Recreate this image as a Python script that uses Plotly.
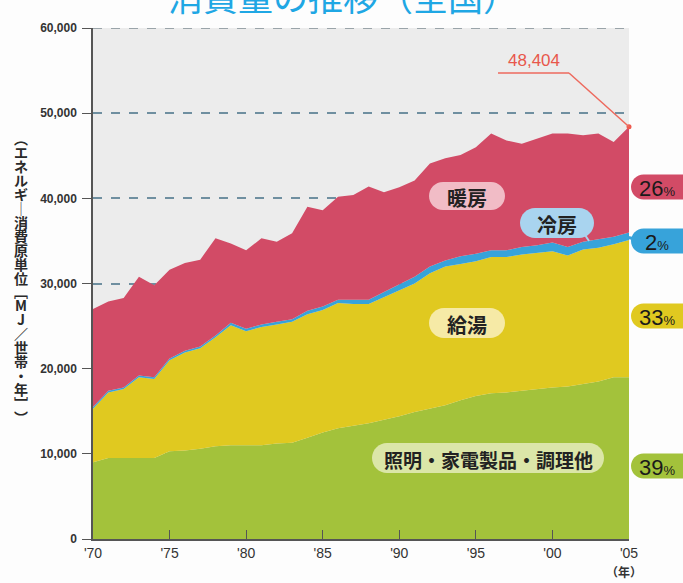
import plotly.graph_objects as go

years = list(range(1970, 2006))
tick_years = [1970, 1975, 1980, 1985, 1990, 1995, 2000, 2005]
tick_text = ["'70", "'75", "'80", "'85", "'90", "'95", "'00", "'05"]

series_names = ["照明・家電製品・調理他", "給湯", "冷房", "暖房"]
lighting = [9000, 9500, 9500, 9500, 9500, 10300, 10400, 10600, 10900, 11000,
            11000, 11000, 11200, 11300, 11900, 12500, 13000, 13300, 13600, 14000,
            14400, 14900, 15300, 15700, 16300, 16800, 17100, 17200, 17400, 17600,
            17800, 17900, 18200, 18500, 19000, 19000]
hot_water = [6300, 7700, 8100, 9500, 9300, 10700, 11500, 11800, 12800, 14100,
             13400, 13900, 14000, 14200, 14500, 14400, 14700, 14300, 14000, 14400,
             14800, 15100, 15900, 16300, 16000, 15800, 16000, 15900, 16000, 16000,
             16000, 15400, 15800, 15700, 15600, 16100]
cooling = [200, 200, 200, 200, 200, 200, 200, 200, 200, 300,
           300, 300, 300, 300, 400, 400, 400, 500, 500, 600,
           700, 800, 800, 700, 900, 900, 800, 800, 900, 900,
           1000, 1000, 900, 1000, 900, 900]
heating = [11500, 10500, 10500, 11600, 10800, 10400, 10300, 10200, 11400, 9300,
           9200, 10100, 9400, 10100, 12200, 11300, 12100, 12300, 13300, 11700,
           11400, 11300, 12100, 12000, 11900, 12500, 13700, 12900, 12100, 12500,
           12800, 13300, 12500, 12400, 11100, 12404]
share_labels = ["39", "33", "2", "26"]
total_label = "48,404"
title_text = "消費量の推移（全国）"
ytitle_chars = ["︵", "エ", "ネ", "ル", "ギ", "│", "消", "費", "原", "単", "位", "﹇", "M", "J",
                "／", "世", "帯", "・", "年", "﹈", "︶"]
year_unit = "（年）"

colors = ["#a3c23b", "#e0c920", "#37a3da", "#d24b66"]
pill_colors = ["#dbe6a8", "#f6eaa6", "#a9d4ef", "#f1bcc6"]

# pixel geometry of plot area
W, H = 683, 583
L, R, T, B = 93, 629, 28, 539
YMAX = 60000


def px(x):
    return (x - L) / (R - L)


def py(y):
    return (B - y) / (B - T)


def pill_path(cx, cy, w, h):
    r = h / 2
    k = 0.5523 * r
    x0, x1 = cx - w / 2, cx + w / 2
    y0, y1 = cy - h / 2, cy + h / 2
    pts = [
        ("M", [(x0 + r, y0)]),
        ("L", [(x1 - r, y0)]),
        ("C", [(x1 - r + k, y0), (x1, cy - k), (x1, cy)]),
        ("C", [(x1, cy + k), (x1 - r + k, y1), (x1 - r, y1)]),
        ("L", [(x0 + r, y1)]),
        ("C", [(x0 + r - k, y1), (x0, cy + k), (x0, cy)]),
        ("C", [(x0, cy - k), (x0 + r - k, y0), (x0 + r, y0)]),
    ]
    s = ""
    for cmd, ps in pts:
        s += cmd + " " + " ".join(f"{px(a):.5f},{py(b):.5f}" for a, b in ps) + " "
    return s + "Z"


fig = go.Figure()
for name, vals, c in zip(series_names, [lighting, hot_water, cooling, heating], colors):
    fig.add_trace(go.Scatter(
        x=years, y=vals, name=name, stackgroup="one", mode="lines",
        line=dict(width=0, color=c), fillcolor=c, showlegend=False,
        hoverinfo="x+y+name"))

cjk = "Noto Sans CJK JP"
shapes = []
annotations = []

# dashed line at top of range
shapes.append(dict(type="line", xref="paper", yref="y", x0=0, x1=1, y0=YMAX, y1=YMAX,
                   line=dict(color="#7f8c92", width=1.5, dash="dash"), layer="below"))

# in-chart labels
inner = [
    (488, 458, 232, 30, pill_colors[0], series_names[0], 19),
    (467, 323, 76, 30, pill_colors[1], series_names[1], 20),
    (557, 223, 74, 30, pill_colors[2], series_names[2], 20),
    (467, 196, 76, 28, pill_colors[3], series_names[3], 20),
]
shapes.append(dict(type="line", xref="paper", yref="paper",
                   x0=px(585), y0=py(235), x1=px(589), y1=py(241),
                   line=dict(color=pill_colors[2], width=2)))
for cx, cy, w, h, c, t, fs in inner:
    shapes.append(dict(type="path", xref="paper", yref="paper", path=pill_path(cx, cy, w, h),
                       fillcolor=c, line=dict(width=0)))
    annotations.append(dict(xref="paper", yref="paper", x=px(cx), y=py(cy + 1), text=t,
                            showarrow=False, xanchor="center", yanchor="middle",
                            font=dict(family=cjk, size=fs, color="#222222", weight="bold")))

# right share pills
right = [(466, colors[0], share_labels[0]), (316, colors[1], share_labels[1]),
         (241, colors[2], share_labels[2]), (187, colors[3], share_labels[3])]
shapes.append(dict(type="line", xref="paper", yref="paper",
                   x0=px(626), y0=py(237), x1=px(640), y1=py(240),
                   line=dict(color=colors[2], width=3)))
for cy, c, t in right:
    shapes.append(dict(type="path", xref="paper", yref="paper", path=pill_path(664, cy, 66, 25),
                       fillcolor=c, line=dict(width=0)))
    annotations.append(dict(xref="paper", yref="paper", x=px(657), y=py(cy + 1),
                            text=t + "<span style='font-size:13px'>%</span>",
                            showarrow=False, xanchor="center", yanchor="middle",
                            font=dict(family="Liberation Sans, Arial", size=22, color="#1a1a1a")))

# 48,404 callout
total_2005 = sum(v[-1] for v in [lighting, hot_water, cooling, heating])
callout_y = py(73) * YMAX
shapes.append(dict(type="line", xref="paper", yref="paper",
                   x0=px(498), y0=py(73), x1=px(569), y1=py(73),
                   line=dict(color="#ee6a5e", width=1.5)))
shapes.append(dict(type="line", xref="paper", yref="y",
                   x0=px(569), y0=callout_y, x1=1.0, y1=total_2005,
                   line=dict(color="#ee6a5e", width=1.5)))
fig.add_trace(go.Scatter(x=[years[-1]], y=[total_2005], mode="markers",
                         marker=dict(color="#ee5a4e", size=5), showlegend=False,
                         hoverinfo="skip", cliponaxis=False))
annotations.append(dict(xref="paper", yref="paper", x=px(534), y=py(60), text=total_label,
                        showarrow=False, xanchor="center", yanchor="middle",
                        font=dict(family="Liberation Sans, Arial", size=17, color="#e8574b")))

# title (clipped at top)
annotations.append(dict(xref="paper", yref="paper", x=px(343), y=py(23), text=title_text,
                        showarrow=False, xanchor="center", yanchor="bottom",
                        font=dict(family=cjk, size=35, color="#1fa7e4")))

# vertical y-axis title, one glyph per position
step = (424 - 131) / len(ytitle_chars)
for i, ch in enumerate(ytitle_chars):
    annotations.append(dict(xref="paper", yref="paper", x=px(21), y=py(131 + step * (i + 0.5)),
                            text=ch, showarrow=False, xanchor="center", yanchor="middle",
                            font=dict(family=cjk, size=14, color="#2a2a2a", weight="bold")))

# (年) under '05
annotations.append(dict(xref="paper", yref="paper", x=px(624), y=py(571), text=year_unit,
                        showarrow=False, xanchor="center", yanchor="middle",
                        font=dict(family=cjk, size=12, color="#333333", weight="bold")))

fig.update_layout(
    width=W, height=H,
    margin=dict(l=L, r=W - R, t=T, b=H - B, pad=0, autoexpand=False),
    paper_bgcolor="#fdfdfd", plot_bgcolor="#ececec",
    shapes=shapes, annotations=annotations,
    xaxis=dict(range=[1970, 2005], tickvals=tick_years, ticktext=tick_text,
               ticks="inside", ticklen=9, tickcolor="#555555", tickwidth=1.2,
               showline=True, linecolor="#555555", linewidth=1.5, showgrid=False,
               zeroline=False, automargin=False,
               tickfont=dict(family="Liberation Sans Narrow, Liberation Sans, Arial", size=14,
                             color="#333333")),
    yaxis=dict(range=[0, YMAX], tickvals=[0, 10000, 20000, 30000, 40000, 50000, 60000],
               tickformat=",d", ticks="outside", ticklen=9, tickcolor="#555555", tickwidth=1.2,
               showline=True, linecolor="#555555", linewidth=1.5,
               showgrid=True, gridcolor="#6f8fa0", griddash="dash", gridwidth=1.5,
               zeroline=False, ticklabelstandoff=3, automargin=False,
               tickfont=dict(family="Liberation Sans Narrow, Liberation Sans, Arial", size=12,
                             color="#333333", weight="bold")),
)

fig.write_html("out.html", config={"displayModeBar": False},
               post_script="document.body.style.margin='0';")
